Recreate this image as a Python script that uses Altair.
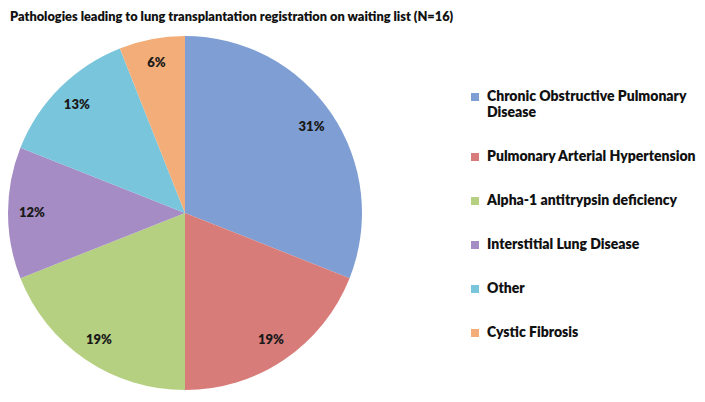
import altair as alt
import pandas as pd

categories = [
    "Chronic Obstructive Pulmonary Disease",
    "Pulmonary Arterial Hypertension",
    "Alpha-1 antitrypsin deficiency",
    "Interstitial Lung Disease",
    "Other",
    "Cystic Fibrosis",
]
percentages = [31, 19, 19, 12, 13, 6]
slice_colors = ["#7F9ED3", "#D87C7A", "#B6D081", "#A58CC4", "#79C5DC", "#F2AD78"]

df = pd.DataFrame({
    "category": categories,
    "pct": percentages,
    "order": list(range(len(categories))),
})
df["label"] = df["pct"].astype(str) + "%"

cx, cy = 177, 173
FONT = "Lato"
WEIGHT = 800

base = alt.Chart(df).encode(
    theta=alt.Theta("pct:Q", stack=True),
    order=alt.Order("order:Q"),
)

arcs = base.mark_arc(outerRadius=177).encode(
    x=alt.value(cx),
    y=alt.value(cy),
    color=alt.Color(
        "category:N",
        sort=categories,
        scale=alt.Scale(domain=categories, range=slice_colors),
        legend=alt.Legend(
            title=None,
            orient="none",
            legendX=460,
            legendY=50,
            symbolType="square",
            symbolSize=64,
            symbolStrokeWidth=0,
            labelFont=FONT,
            labelFontWeight=WEIGHT,
            labelFontSize=14,
            labelColor="#111111",
            labelLimit=300,
            labelOffset=5,
            rowPadding=30,
            labelExpr="datum.label == 'Chronic Obstructive Pulmonary Disease' ? ['Chronic Obstructive Pulmonary', 'Disease'] : datum.label",
        ),
    ),
)

labels = base.mark_text(
    radius=153, font=FONT, fontWeight=WEIGHT, fontSize=13, color="#1a1a1a"
).encode(
    x=alt.value(cx),
    y=alt.value(cy),
    text="label:N",
)

chart = alt.layer(arcs, labels).properties(
    width=689,
    height=354,
    padding={"left": 0, "top": 32, "right": 0, "bottom": 0},
    autosize=alt.AutoSizeParams(type="none"),
    title=alt.Title(
        "Pathologies leading to lung transplantation registration on waiting list (N=16)",
        anchor="start",
        font=FONT,
        fontSize=12.8,
        fontWeight=WEIGHT,
        color="#111111",
        offset=12,
        dx=2,
    ),
).configure_view(stroke=None)

chart.save("out.html", embed_options={"renderer": "svg", "actions": False})
